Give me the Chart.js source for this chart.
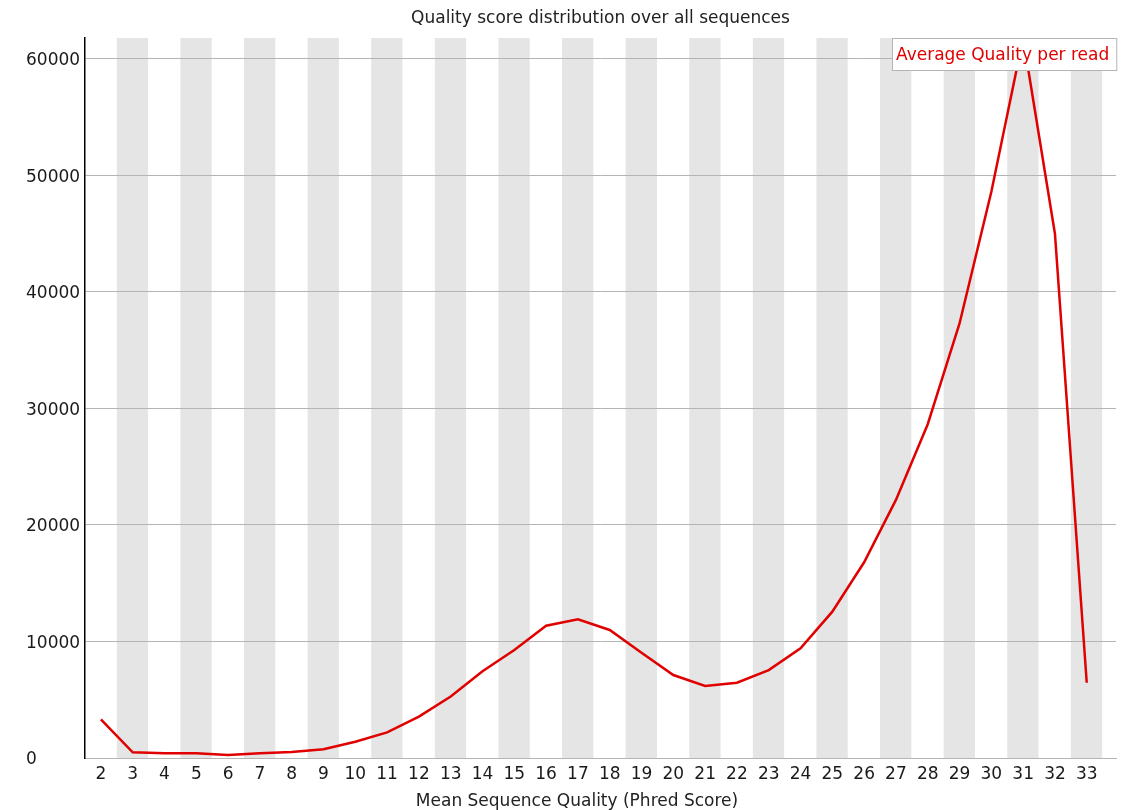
<!DOCTYPE html>
<html>
<head>
<meta charset="utf-8">
<title>Quality score distribution over all sequences</title>
<script src="https://cdn.jsdelivr.net/npm/chart.js@4/dist/chart.umd.min.js"></script>
<style>
  html, body { margin: 0; padding: 0; background: #ffffff; }
  #wrap { width: 1130px; height: 810px; }
</style>
</head>
<body>
<div id="wrap"><canvas id="chart" width="1130" height="810"></canvas></div>
<script>
// Mean sequence quality (Phred score) per read
const categories = [2, 3, 4, 5, 6, 7, 8, 9, 10, 11, 12, 13, 14, 15, 16, 17,
                    18, 19, 20, 21, 22, 23, 24, 25, 26, 27, 28, 29, 30, 31, 32, 33];
// Number of reads at each mean quality
const readCounts = [3320, 490, 400, 400, 260, 400, 520, 750, 1400, 2200, 3550, 5280,
                    7450, 9270, 11360, 11900, 10990, 9040, 7120, 6180, 6460, 7550, 9420,
                    12560, 16800, 22150, 28650, 37300, 48600, 61800, 45000, 6460];
const yTickValues = [0, 10000, 20000, 30000, 40000, 50000, 60000];

const seriesLabel = 'Average Quality per read';
const chartTitle = 'Quality score distribution over all sequences';
const xAxisTitle = 'Mean Sequence Quality (Phred Score)';

const FONT = '"DejaVu Sans", Verdana, sans-serif';
const FONT_SIZE = 17;
const RED = '#e00000';

// Alternating grey column bands behind the odd quality scores
const bandPlugin = {
  id: 'bands',
  beforeDraw(chart) {
    const { ctx, chartArea, scales: { x } } = chart;
    ctx.save();
    ctx.fillStyle = 'rgb(229,229,229)';
    categories.forEach((c, i) => {
      if (i % 2 === 1) {
        const l = x.getPixelForValue(c - 0.5);
        const r = x.getPixelForValue(c + 0.5);
        ctx.fillRect(l, chartArea.top, r - l - 0.5, chartArea.bottom - chartArea.top);
      }
    });
    ctx.restore();
  }
};

// Framed series label in the upper right corner, plus the x axis caption
const overlayPlugin = {
  id: 'overlay',
  afterDraw(chart) {
    const { ctx, chartArea } = chart;
    ctx.save();
    ctx.font = FONT_SIZE + 'px ' + FONT;
    const w = ctx.measureText(seriesLabel).width + 11;
    const h = 32;
    const bx = Math.round(chartArea.right - w) + 0.5;
    const by = Math.round(chartArea.top) + 0.5;
    ctx.fillStyle = '#ffffff';
    ctx.fillRect(bx, by, w, h);
    ctx.strokeStyle = '#b4b4b4';
    ctx.lineWidth = 1;
    ctx.strokeRect(bx, by, w, h);
    ctx.fillStyle = RED;
    ctx.textBaseline = 'middle';
    ctx.textAlign = 'left';
    ctx.fillText(seriesLabel, bx + 3.5, by + h / 2 + 1);

    ctx.fillStyle = '#222222';
    ctx.textAlign = 'center';
    ctx.fillText(xAxisTitle, 577, chart.height - 8);
    ctx.restore();
  }
};

new Chart(document.getElementById('chart'), {
  type: 'line',
  data: {
    datasets: [{
      label: seriesLabel,
      data: categories.map((c, i) => ({ x: c, y: readCounts[i] })),
      borderColor: RED,
      borderWidth: 2.5,
      pointRadius: 0,
      tension: 0,
      fill: false
    }]
  },
  options: {
    responsive: false,
    animation: false,
    events: [],
    layout: { padding: { left: 26, right: 14, top: 0, bottom: 0 } },
    plugins: {
      legend: { display: false },
      tooltip: { enabled: false },
      title: {
        display: true,
        text: chartTitle,
        fullSize: false,
        color: '#222222',
        font: { family: FONT, size: FONT_SIZE, weight: 'normal', lineHeight: 1.2 },
        padding: { top: 8, bottom: 9.6 }
      }
    },
    scales: {
      x: {
        type: 'linear',
        min: 1.5,
        max: 33.92,
        afterBuildTicks(axis) { axis.ticks = categories.map(v => ({ value: v })); },
        afterFit(axis) { axis.height = 52; },
        grid: { display: false, drawTicks: false },
        border: { display: true, color: '#b4b4b4', width: 1 },
        ticks: {
          autoSkip: false,
          maxRotation: 0,
          padding: 6,
          color: '#1a1a1a',
          font: { family: FONT, size: FONT_SIZE },
          callback: v => String(v)
        }
      },
      y: {
        min: 0,
        max: 61800,
        afterBuildTicks(axis) { axis.ticks = yTickValues.map(v => ({ value: v })); },
        afterFit(axis) { axis.width = 59; },
        grid: { color: '#b4b4b4', lineWidth: 1, drawTicks: false },
        border: { display: true, color: '#000000', width: 1.5 },
        ticks: {
          crossAlign: 'far',
          padding: 6,
          labelOffset: 2,
          color: '#1a1a1a',
          font: { family: FONT, size: FONT_SIZE },
          callback: v => String(v)
        }
      }
    }
  },
  plugins: [bandPlugin, overlayPlugin]
});
</script>
</body>
</html>
